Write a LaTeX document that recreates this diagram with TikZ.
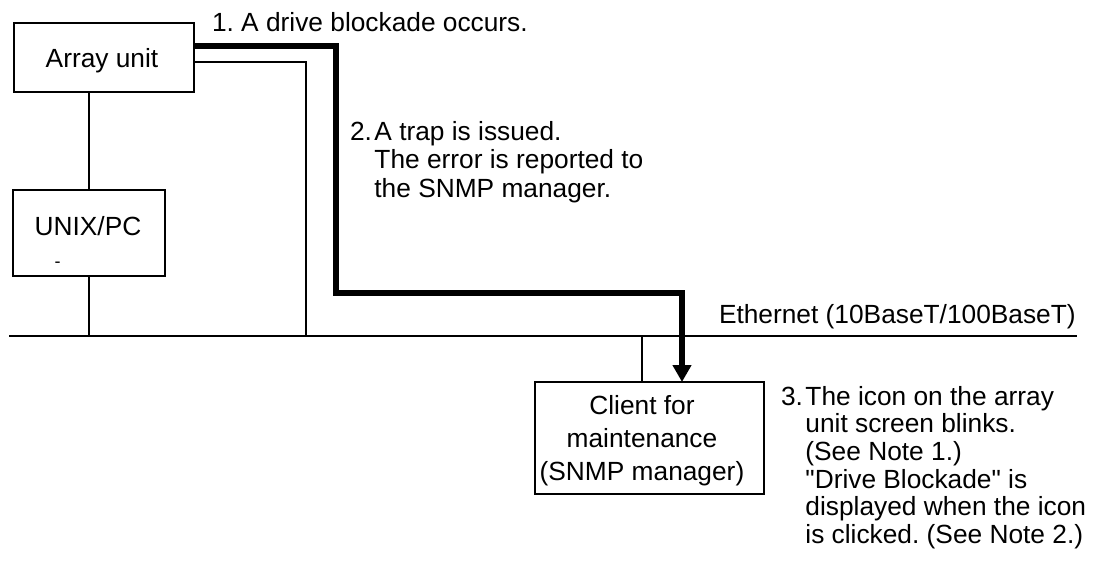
\documentclass[tikz,border=0pt]{standalone}
\usepackage{fontspec}
% plain family (no TeX quote mapping) so straight quotes stay straight
\newfontfamily\arial{Liberation Sans}
\usetikzlibrary{arrows.meta}
\frenchspacing
\begin{document}
\begin{tikzpicture}[x=1pt,y=-1pt,
  box/.style={draw, line width=1.4pt, inner sep=0pt, outer sep=0pt},
  lbl/.style={inner sep=0pt, outer sep=0pt, font=\arial\fontsize{26.3}{28}\selectfont},
  link/.style={line width=1.4pt},
  bus/.style={line width=2pt},
  trap/.style={line width=5.5pt, line join=miter, -{Triangle[width=18pt,length=17pt]}},
]
\useasboundingbox (0,0) rectangle (1104,563);

% equipment boxes
\node[box, minimum width=180pt, minimum height=69pt] (array) at (104,57.5) {};
\node[lbl, anchor=base] (arrayLbl) at (102,67) {Array unit};

\node[box, minimum width=152pt, minimum height=86pt] (unix) at (89,233) {};
\node[lbl, anchor=base] (unixLbl) at (88,235) {UNIX/PC};
\node[inner sep=0pt, anchor=base, font=\arial\fontsize{18}{18}\selectfont] (unixMark) at (57.5,267) {-};

\node[box, minimum width=229pt, minimum height=112pt] (client) at (649.5,438) {};
\node[lbl, anchor=base] (clientLbl) at (642,414)
  {\fontsize{26.3}{33}\selectfont\begin{tabular}[t]{@{}c@{}}Client for\\maintenance\\(SNMP manager)\end{tabular}};

% LAN
\coordinate (ethW) at (9,336);
\coordinate (ethE) at (1077,336);
\draw[bus] (ethW) -- (ethE);
\node[lbl, anchor=base west] (ethLbl) at (719,323) {Ethernet (10BaseT/100BaseT)};

% cabling
\coordinate (arrayTap) at (306,336);
\draw[link] (unix.north |- array.south) -- (unix.north);
\draw[link] (unix.south) -- (unix.south |- ethW);
\draw[link] ([yshift=-4.5pt]array.east) -| (arrayTap);
\draw[link] ([xshift=-7.5pt]client.north) -- ([xshift=-7.5pt]client.north |- ethW);

% trap path
\coordinate (trapBend) at (336,293);
\draw[trap] ([yshift=11.5pt]array.east) -| (trapBend) -| ([xshift=32.5pt]client.north);

% step notes
\node[lbl, anchor=base west] (step1) at (212,31) {1. A drive blockade occurs.};
\node[lbl, anchor=base west] (step2) at (350,140)
  {\fontsize{26.3}{28.5}\selectfont\begin{tabular}[t]{@{}l@{\hspace{2.5pt}}l@{}}2.&A trap is issued.\\&The error is reported to\\&the SNMP manager.\end{tabular}};
\node[lbl, anchor=base west] (step3) at (781,405)
  {\fontsize{26.3}{27.7}\selectfont\begin{tabular}[t]{@{}l@{\hspace{2.5pt}}l@{}}3.&The icon on the array\\&unit screen blinks.\\&(See Note 1.)\\&"Drive Blockade" is\\&displayed when the icon\\&is clicked. (See Note 2.)\end{tabular}};
\end{tikzpicture}
\end{document}
